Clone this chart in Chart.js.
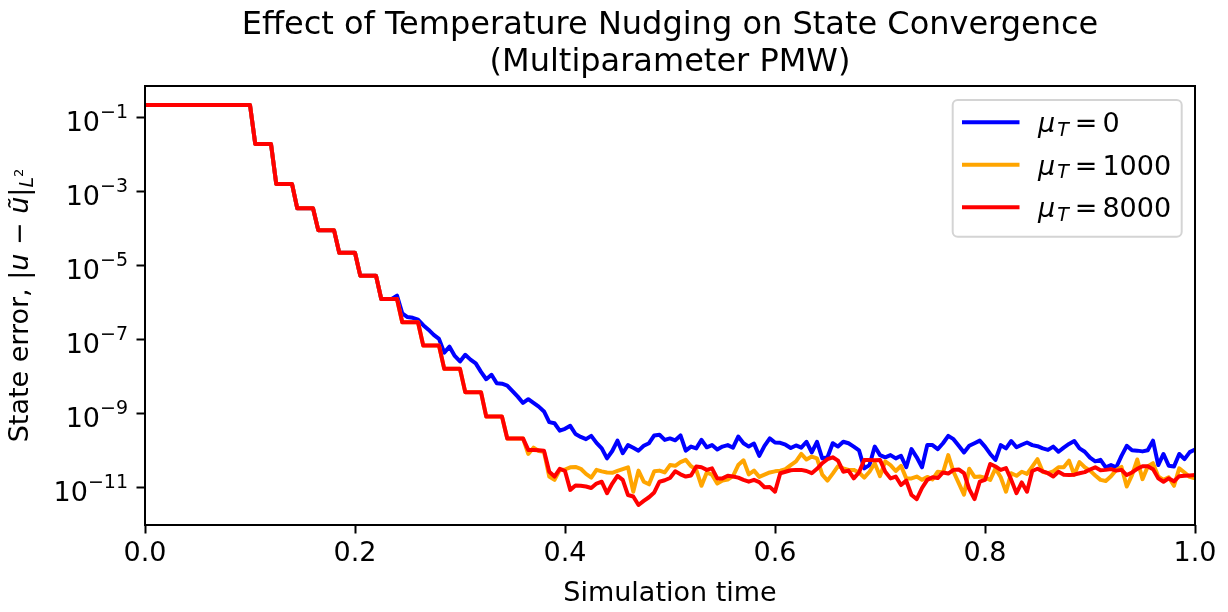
<!DOCTYPE html>
<html>
<head>
<meta charset="utf-8">
<script src="https://cdn.jsdelivr.net/npm/chart.js@4.4.1/dist/chart.umd.min.js"></script>
<style>
  html, body { margin: 0; padding: 0; background: #fff; }
  canvas { display: block; }
</style>
</head>
<body>
<canvas id="chart" width="1228" height="612"></canvas>
<script>
// ----------------- DATA -----------------
// log10 of the state error, one value every 0.005 of simulation time
const times = Array.from({ length: 201 }, (_, i) => i / 200);

// staircase shared by all three runs (t = 0 .. 0.360)
const stairLog = [
  -0.67, -0.67, -0.67, -0.67, -0.67, -0.67, -0.67, -0.67, -0.67, -0.67,
  -0.67, -0.67, -0.67, -0.67, -0.67, -0.67, -0.67, -0.67, -0.67, -0.67,
  -0.67,
  -1.72, -1.72, -1.72, -1.72,
  -2.80, -2.80, -2.80, -2.80,
  -3.46, -3.46, -3.46, -3.46,
  -4.05, -4.05, -4.05, -4.05,
  -4.66, -4.66, -4.66, -4.66,
  -5.28, -5.28, -5.28, -5.28,
  -5.91, -5.91, -5.91, -5.91,
  -6.54, -6.54, -6.54, -6.54,
  -7.17, -7.17, -7.17, -7.17,
  -7.80, -7.80, -7.80, -7.80,
  -8.43, -8.43, -8.43, -8.43,
  -9.09, -9.09, -9.09, -9.09,
  -9.68, -9.68, -9.68, -9.68
];

// mu_T = 0 from t = 0.240 on
const blueTailLog = [
  -5.82, -6.30, -6.40, -6.42, -6.47, -6.62, -6.74, -6.88, -6.99, -7.36,
  -7.20, -7.45, -7.60, -7.42, -7.55, -7.65, -7.88, -8.08, -7.96, -8.19,
  -8.20, -8.25, -8.40, -8.55, -8.72, -8.62, -8.72, -8.82, -8.95, -9.24,
  -9.27, -9.47, -9.42, -9.34, -9.56, -9.64, -9.70, -9.61, -9.80, -9.95,
  -10.22, -10.02, -9.74, -10.08, -9.86, -9.93, -10.01, -9.88, -9.81, -9.60,
  -9.58, -9.72, -9.68, -9.73, -9.60, -10.01, -9.90, -9.95, -9.72, -9.92,
  -9.86, -9.98, -9.90, -9.86, -9.93, -9.63, -9.81, -9.90, -9.82, -10.15,
  -9.88, -9.68, -9.79, -9.80, -9.85, -9.94, -9.87, -9.93, -9.77, -10.06,
  -9.77, -10.22, -10.19, -9.81, -9.90, -9.77, -9.81, -9.90, -10.00, -10.49,
  -10.40, -9.90, -10.13, -10.19, -10.13, -10.22, -10.15, -10.46, -9.97, -10.19,
  -10.46, -9.86, -9.86, -9.97, -9.81, -9.61, -9.70, -9.88, -10.06, -9.88,
  -9.81, -9.74, -9.90, -10.10, -10.26, -9.86, -9.95, -9.75, -9.92, -9.85,
  -9.79, -9.86, -9.89, -9.95, -9.99, -9.90, -10.04, -9.93, -9.83, -9.75,
  -9.95, -10.04, -10.20, -10.30, -10.26, -10.46, -10.40, -10.46, -10.15, -9.88,
  -10.00, -10.01, -10.03, -10.00, -9.74, -10.40, -10.10, -10.42, -10.44, -10.10,
  -10.24, -10.05, -9.98
];

// mu_T = 1000 from t = 0.365 on
const orangeTailLog = [
  -10.10, -9.93, -10.02, -10.04, -10.71, -10.80, -10.53, -10.52, -10.46, -10.45,
  -10.50, -10.64, -10.74, -10.53, -10.57, -10.60, -10.61, -10.56, -10.51, -10.46,
  -11.12, -10.55, -10.85, -10.92, -10.57, -10.55, -10.60, -10.40, -10.42, -10.32,
  -10.26, -10.43, -10.53, -10.96, -10.60, -10.66, -10.90, -10.82, -10.79, -10.70,
  -10.40, -10.27, -10.65, -10.55, -10.72, -10.66, -10.60, -10.57, -10.55, -10.51,
  -10.40, -10.30, -10.10, -10.25, -10.17, -10.22, -10.66, -10.82, -10.63, -10.43,
  -10.49, -10.53, -10.53, -10.60, -10.74, -10.58, -10.35, -10.70, -10.30, -10.40,
  -10.56, -10.42, -10.76, -10.76, -10.71, -10.80, -10.72, -10.79, -10.58, -10.60,
  -10.13, -10.58, -10.89, -11.20, -10.50, -10.72, -10.71, -10.74, -10.80, -10.49,
  -10.73, -11.12, -10.62, -10.69, -10.58, -10.64, -10.44, -10.24, -10.58, -10.62,
  -10.57, -10.46, -10.46, -10.28, -10.66, -10.32, -10.46, -10.55, -10.68, -10.80,
  -10.83, -10.70, -10.53, -10.45, -10.98, -10.67, -10.25, -10.78, -10.44, -10.35,
  -10.71, -10.80, -10.73, -10.96, -10.49, -10.60, -10.72, -10.76
];

// mu_T = 8000 from t = 0.365 on
const redTailLog = [
  -9.99, -9.99, -10.00, -10.01, -10.58, -10.71, -10.50, -10.56, -11.07, -10.95,
  -10.96, -10.98, -11.02, -10.90, -10.85, -11.16, -10.90, -10.69, -10.80, -11.21,
  -11.25, -11.48, -11.37, -11.27, -11.14, -10.85, -10.81, -10.75, -10.57, -10.65,
  -10.71, -10.68, -10.44, -10.46, -10.53, -10.49, -10.76, -10.76, -10.69, -10.71,
  -10.74, -10.80, -10.85, -10.80, -10.86, -11.00, -10.99, -11.12, -10.62, -10.58,
  -10.54, -10.53, -10.53, -10.56, -10.62, -10.50, -10.35, -10.24, -10.19, -10.28,
  -10.58, -10.55, -10.76, -10.60, -10.26, -10.26, -10.27, -10.26, -10.58, -10.76,
  -10.71, -10.94, -10.82, -11.21, -11.32, -11.02, -10.80, -10.73, -10.75, -10.60,
  -10.63, -10.53, -10.52, -10.62, -11.05, -11.32, -10.85, -10.80, -10.37, -10.44,
  -10.53, -10.48, -10.80, -11.16, -10.87, -11.12, -10.56, -10.50, -10.57, -10.62,
  -10.71, -10.58, -10.66, -10.67, -10.66, -10.62, -10.59, -10.52, -10.46, -10.54,
  -10.53, -10.51, -10.55, -10.53, -10.67, -10.60, -10.50, -10.43, -10.43, -10.51,
  -10.76, -10.85, -10.76, -10.84, -10.70, -10.69, -10.68, -10.67
];

const muValues = ['0', '1000', '8000'];
const seriesColors = ['#0000ff', '#ffa500', '#ff0000'];
const yTickExps = [-1, -3, -5, -7, -9, -11];
const titleLines = ['Effect of Temperature Nudging on State Convergence', '(Multiparameter PMW)'];
const xTitle = 'Simulation time';

const blueLog = stairLog.slice(0, 48).concat(blueTailLog);
const orangeLog = stairLog.concat(orangeTailLog);
const redLog = stairLog.concat(redTailLog);

const FONT = '"DejaVu Sans", sans-serif';

function toPoints(logs) {
  return logs.map((v, i) => ({ x: times[i], y: Math.pow(10, v) }));
}

// ----------------- TEXT, FRAME, LEGEND -----------------
const overlay = {
  id: 'overlay',
  afterDraw(chart) {
    const c = chart.ctx;
    const a = chart.chartArea;
    const xs = chart.scales.x;
    const ys = chart.scales.y;
    c.save();

    c.strokeStyle = '#000';
    c.lineWidth = 2;
    c.strokeRect(a.left, a.top, a.right - a.left, a.bottom - a.top);

    c.fillStyle = '#000';
    c.textBaseline = 'alphabetic';
    c.textAlign = 'center';
    c.font = '32px ' + FONT;
    c.fillText(titleLines[0], (a.left + a.right) / 2, 34);
    c.fillText(titleLines[1], (a.left + a.right) / 2, 71);

    c.font = '27px ' + FONT;
    xs.ticks.forEach(t => {
      c.fillText(t.value.toFixed(1), xs.getPixelForValue(t.value), 561);
    });
    c.fillText(xTitle, (a.left + a.right) / 2, 601);

    // y tick labels as 10 with a superscript exponent
    c.textAlign = 'left';
    yTickExps.forEach(e => {
      const y = ys.getPixelForValue(Math.pow(10, e));
      const sup = '\u2212' + Math.abs(e);
      c.font = '19px ' + FONT;
      const sw = c.measureText(sup).width;
      c.font = '27px ' + FONT;
      const bw = c.measureText('10').width;
      const x0 = 128 - sw - bw;
      c.fillText('10', x0, y + 13.5);
      c.font = '19px ' + FONT;
      c.fillText(sup, x0 + bw, y + 1);
    });

    // y axis label
    const pieces = [
      ['State error, ', '27px ', 0],
      ['|', '27px ', 0],
      ['u', 'italic 27px ', 0],
      [' \u2212 ', '27px ', 0],
      ['\u0169', 'italic 27px ', 0],
      ['|', '27px ', 0],
      ['L', 'italic 19px ', 4.5],
      ['2', '13px ', -5]
    ];
    let total = 0;
    pieces.forEach(p => { c.font = p[1] + FONT; total += c.measureText(p[0]).width; });
    c.save();
    c.translate(28, (a.top + a.bottom) / 2);
    c.rotate(-Math.PI / 2);
    let px = -total / 2;
    pieces.forEach(p => {
      c.font = p[1] + FONT;
      c.fillText(p[0], px, p[2]);
      px += c.measureText(p[0]).width;
    });
    c.restore();

    // legend
    const lx = 952.7, ly = 100, lw = 229, lh = 136.7, r = 5;
    c.beginPath();
    c.moveTo(lx + r, ly);
    c.arcTo(lx + lw, ly, lx + lw, ly + lh, r);
    c.arcTo(lx + lw, ly + lh, lx, ly + lh, r);
    c.arcTo(lx, ly + lh, lx, ly, r);
    c.arcTo(lx, ly, lx + lw, ly, r);
    c.closePath();
    c.fillStyle = 'rgba(255,255,255,0.8)';
    c.fill();
    c.strokeStyle = '#d4d4d4';
    c.lineWidth = 2;
    c.stroke();

    muValues.forEach((m, i) => {
      const y = 122.3 + i * 42.5;
      c.strokeStyle = seriesColors[i];
      c.lineWidth = 4;
      c.beginPath();
      c.moveTo(962, y);
      c.lineTo(1019.5, y);
      c.stroke();

      c.fillStyle = '#000';
      let x = 1038;
      c.font = 'italic 27px ' + FONT;
      c.fillText('\u03bc', x, y + 10);
      x += c.measureText('\u03bc').width + 2;
      c.font = 'italic 19px ' + FONT;
      c.fillText('T', x, y + 13.5);
      x += c.measureText('T').width + 6;
      c.font = '27px ' + FONT;
      c.fillText('=', x, y + 10);
      x += c.measureText('=').width + 5;
      c.fillText(m, x, y + 10);
    });

    c.restore();
  }
};

// ----------------- CHART -----------------
const ctx = document.getElementById('chart').getContext('2d');

const tickGrid = {
  display: true,
  drawOnChartArea: false,
  drawTicks: true,
  tickLength: 8.5,
  tickWidth: 2,
  tickColor: '#000'
};

new Chart(ctx, {
  type: 'line',
  data: {
    datasets: [
      { label: '\u03bcT = 0', data: toPoints(blueLog), borderColor: seriesColors[0], order: 2 },
      { label: '\u03bcT = 1000', data: toPoints(orangeLog), borderColor: seriesColors[1], order: 1 },
      { label: '\u03bcT = 8000', data: toPoints(redLog), borderColor: seriesColors[2], order: 0 }
    ]
  },
  options: {
    responsive: false,
    animation: false,
    devicePixelRatio: 1,
    layout: { padding: { top: 86, right: 33, left: 0, bottom: 0 } },
    elements: {
      point: { radius: 0 },
      line: { borderWidth: 4, tension: 0, fill: false, borderJoinStyle: 'round', borderCapStyle: 'butt' }
    },
    plugins: {
      legend: { display: false },
      title: { display: false },
      tooltip: { enabled: false }
    },
    scales: {
      x: {
        type: 'linear',
        min: 0,
        max: 1,
        ticks: { stepSize: 0.2, callback: () => '' },
        grid: tickGrid,
        border: { display: false },
        afterFit: s => { s.height = 87; }
      },
      y: {
        type: 'logarithmic',
        min: Math.pow(10, -12.02),
        max: Math.pow(10, -0.154),
        afterBuildTicks: s => { s.ticks = yTickExps.map(e => ({ value: Math.pow(10, e) })); },
        ticks: { callback: () => '' },
        grid: tickGrid,
        border: { display: false },
        afterFit: s => { s.width = 145; }
      }
    }
  },
  plugins: [overlay]
});
</script>
</body>
</html>
